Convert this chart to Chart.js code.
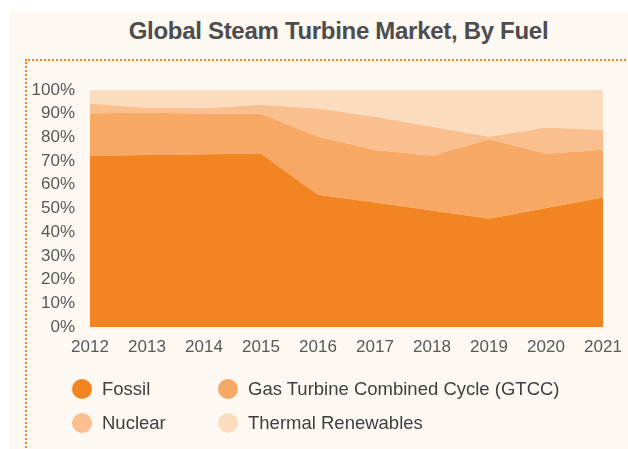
<!DOCTYPE html>
<html>
<head>
<meta charset="utf-8">
<script src="https://cdn.jsdelivr.net/npm/chart.js@4/dist/chart.umd.min.js"></script>
<style>
  html, body { margin:0; padding:0; background:#ffffff; }
  body { width:628px; height:449px; position:relative; overflow:hidden; font-family:"Liberation Sans", Arial, sans-serif; }
  #panel { position:absolute; left:10px; top:12px; right:0; bottom:0; background:#FDF8F2; }
  #frame { position:absolute; left:25px; top:59px; right:-10px; bottom:-10px; border-left:2px dotted #F28322; border-top:2px dotted #F28322; }
  #title { position:absolute; left:0; width:677px; top:17px; text-align:center; font-weight:bold; font-size:24px; color:#4D4D4F; letter-spacing:-0.3px; }
  #chartWrap { position:absolute; left:0; top:0; width:628px; height:449px; }
  .lg { position:absolute; font-size:18.5px; color:#3f3f41; line-height:20px; }
  .dot { position:absolute; width:20px; height:20px; border-radius:50%; }
</style>
</head>
<body>
<div id="panel"></div>
<div id="frame"></div>
<div id="title">Global Steam Turbine Market, By Fuel</div>
<div id="chartWrap"><canvas id="c" width="628" height="449"></canvas></div>
<div id="legend"></div>
<script>
const years = ["2012","2013","2014","2015","2016","2017","2018","2019","2020","2021"];
const seriesNames = ["Fossil","Gas Turbine Combined Cycle (GTCC)","Nuclear","Thermal Renewables"];
const fossil     = [72.3, 72.6, 72.9, 73.1, 55.8, 52.5, 49.2, 45.7, 50.2, 54.6];
const gtcc       = [17.9, 17.8, 17.2, 16.9, 24.5, 22.2, 23.1, 33.5, 22.9, 20.2];
const nuclear    = [ 4.0,  2.1,  2.2,  3.8, 11.9, 14.0, 12.2,  1.1, 11.1,  8.3];
const renewables = [ 5.8,  7.5,  7.7,  6.2,  7.8, 11.3, 15.5, 19.7, 15.8, 16.9];
const yTicks = [0,10,20,30,40,50,60,70,80,90,100];
const colors = ["#F38422","#F7A865","#F9BF8E","#FCDCBE"];

const values = [fossil, gtcc, nuclear, renewables];
const datasets = values.map((v,i)=>({
  label: seriesNames[i],
  data: v,
  backgroundColor: colors[i],
  borderColor: colors[i],
  borderWidth: 0,
  pointRadius: 0,
  tension: 0,
  fill: i===0 ? 'origin' : '-1'
}));

new Chart(document.getElementById('c'), {
  type:'line',
  data:{ labels: years, datasets },
  options:{
    responsive:false,
    animation:false,
    layout:{ padding:{ left:0, top:90, right:25, bottom:0 } },
    plugins:{ legend:{display:false}, title:{display:false}, tooltip:{enabled:false} },
    scales:{
      x:{
        offset:false,
        grid:{display:false, drawTicks:false},
        border:{display:false},
        ticks:{ color:'#59595B', font:{family:'Liberation Sans', size:17}, padding:10, maxRotation:0, autoSkip:false },
        afterFit(s){ s.height = 122; s.paddingLeft = 0; s.paddingRight = 0; }
      },
      y:{
        stacked:true,
        min:0, max:100,
        grid:{display:false, drawTicks:false},
        border:{display:false},
        afterBuildTicks(s){ s.ticks = yTicks.map(v=>({value:v})); },
        ticks:{ color:'#59595B', font:{family:'Liberation Sans', size:17}, padding:15, callback:v=>v+'%' },
        afterFit(s){ s.width = 90; s.paddingTop = 0; s.paddingBottom = 0; }
      }
    }
  }
});

// HTML legend built from series names/colours
const legendPos = [[82,389],[228,389],[82,423],[228,423]];
const lg = document.getElementById('legend');
seriesNames.forEach((n,i)=>{
  const [cx,cy] = legendPos[i];
  const d = document.createElement('div');
  d.className='dot'; d.style.left=(cx-10)+'px'; d.style.top=(cy-10)+'px'; d.style.background=colors[i];
  lg.appendChild(d);
  const t = document.createElement('div');
  t.className='lg'; t.textContent=n; t.style.left=(cx+20)+'px'; t.style.top=(cy-10)+'px';
  lg.appendChild(t);
});
</script>
</body>
</html>
